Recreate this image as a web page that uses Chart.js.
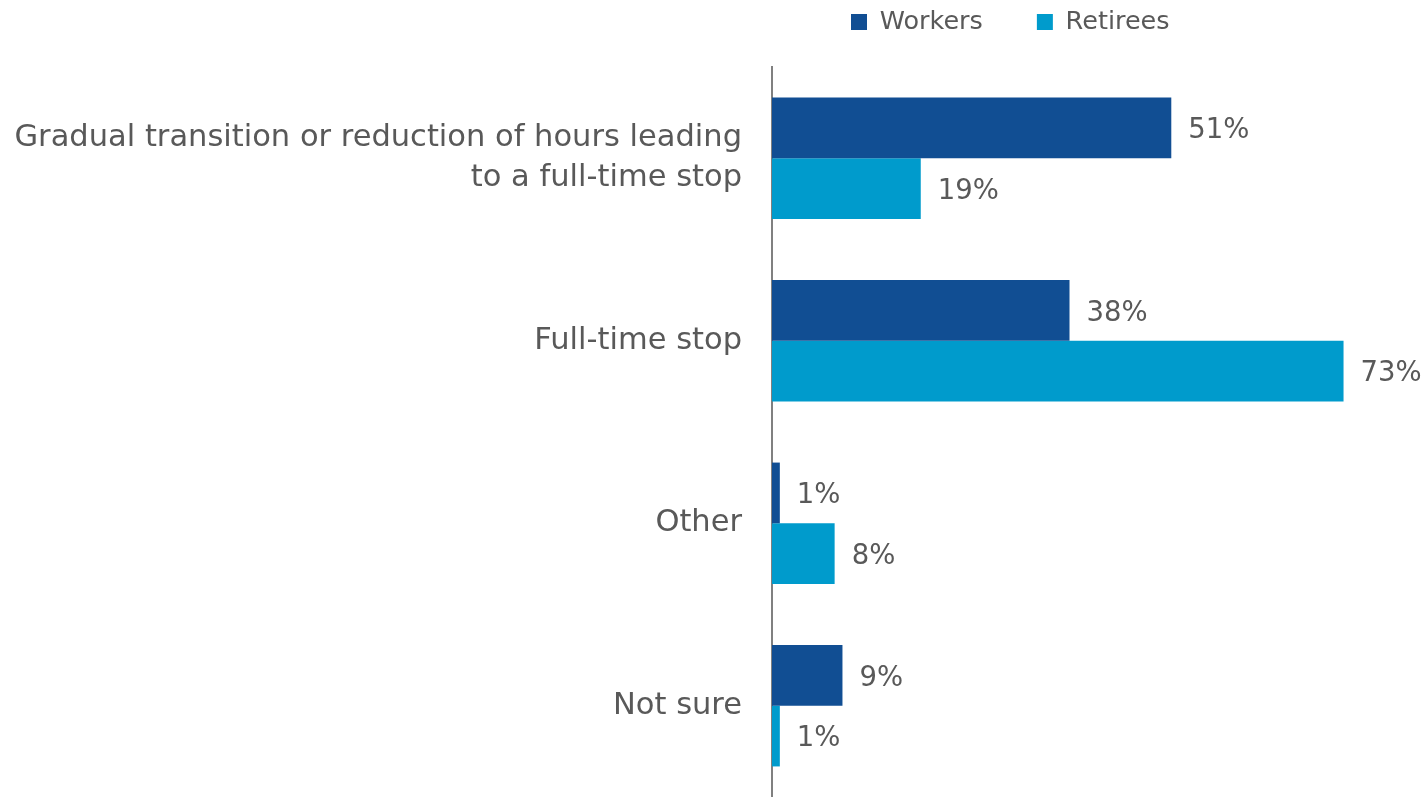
<!DOCTYPE html>
<html>
<head>
<meta charset="utf-8">
<title>Retirement transition</title>
<script src="https://cdn.jsdelivr.net/npm/chart.js@4/dist/chart.umd.min.js"></script>
<style>
  html, body { margin: 0; padding: 0; background: #fff; }
  #wrap { width: 1424px; height: 797px; }
</style>
</head>
<body>
<div id="wrap"><canvas id="myChart"></canvas></div>
<script>
const categories = [
  ['Gradual transition or reduction of hours leading', 'to a full-time stop'],
  'Full-time stop',
  'Other',
  'Not sure'
];
const workers = [51, 38, 1, 9];
const retirees = [19, 73, 8, 1];

const COLORS = {
  workers: '#114E93',
  retirees: '#009BCC',
  text: '#595959',
  axis: '#808080'
};
const FONT = 'DejaVu Sans';

// value labels to the right of each bar
const valueLabels = {
  id: 'valueLabels',
  afterDatasetsDraw(chart) {
    const ctx = chart.ctx;
    ctx.save();
    ctx.font = '27.5px ' + FONT;
    ctx.fillStyle = COLORS.text;
    ctx.textAlign = 'left';
    ctx.textBaseline = 'middle';
    chart.data.datasets.forEach((ds, i) => {
      chart.getDatasetMeta(i).data.forEach((bar, j) => {
        ctx.fillText(ds.data[j] + '%', bar.x + 17, bar.y + 3);
      });
    });
    ctx.restore();
  }
};

// legend sits above the bars, not centred on the canvas
const legendPlace = {
  id: 'legendPlace',
  beforeLayout(chart) {
    const lg = chart.legend;
    if (lg && !lg._fixed) {
      const fit = lg.fit;
      lg.fit = function () { fit.call(this); this.height = 67; };
      lg._fixed = true;
    }
  },
  afterLayout(chart) {
    const lg = chart.legend;
    const lab = lg.options.labels;
    const half = Math.max(lab.boxHeight, lab.font.size) / 2;
    lg.left = 851 - lab.padding;
    lg.top = 22 - half - lab.padding;
  }
};

const data = {
  labels: categories,
  datasets: [
    {
      label: 'Workers',
      data: workers,
      backgroundColor: COLORS.workers,
      borderWidth: 0
    },
    {
      label: 'Retirees',
      data: retirees,
      backgroundColor: COLORS.retirees,
      borderWidth: 0
    }
  ]
};

const config = {
  type: 'bar',
  data: data,
  options: {
    indexAxis: 'y',
    responsive: true,
    maintainAspectRatio: false,
    animation: false,
    layout: { padding: { left: 0, right: 10, top: 0, bottom: 0 } },
    datasets: {
      bar: { categoryPercentage: 0.665, barPercentage: 1.0 }
    },
    scales: {
      x: {
        display: false,
        min: 0,
        max: 82
      },
      y: {
        afterFit(scale) {
          scale.width = 772;
          scale.paddingTop = 0;
          scale.paddingBottom = 0;
        },
        grid: { display: false, drawTicks: false },
        border: { display: true, color: COLORS.axis, width: 2 },
        ticks: {
          padding: 30,
          color: COLORS.text,
          font: { family: FONT, size: 30.5, lineHeight: 1.31 }
        }
      }
    },
    plugins: {
      legend: {
        position: 'top',
        align: 'start',
        labels: {
          boxWidth: 16,
          boxHeight: 16,
          padding: 54,
          color: COLORS.text,
          font: { family: FONT, size: 25.5 }
        }
      },
      tooltip: { enabled: false }
    }
  },
  plugins: [valueLabels, legendPlace]
};

const myChart = new Chart(document.getElementById('myChart'), config);
</script>
</body>
</html>
